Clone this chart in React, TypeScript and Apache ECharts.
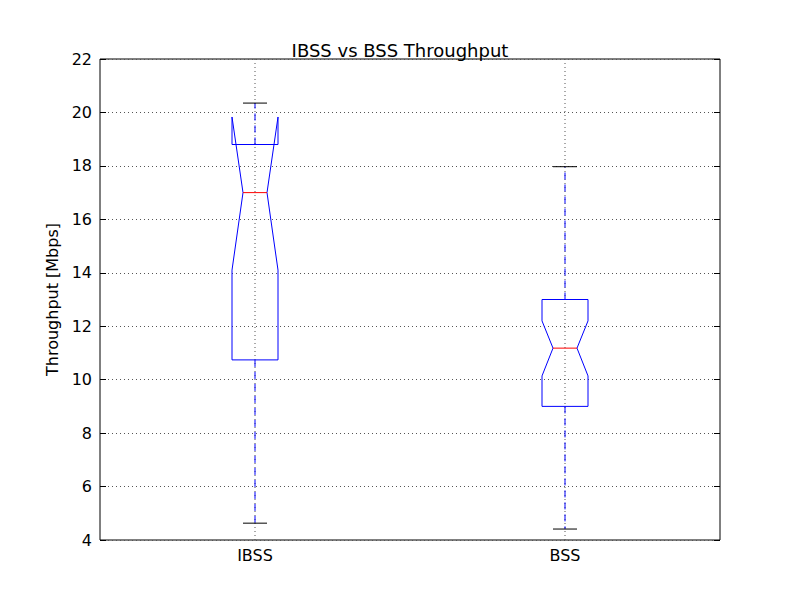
import { useEffect, useRef } from 'react';
import * as echarts from 'echarts';

const categories = ['IBSS', 'BSS'];
// [whiskerLow, q1, notchLow, median, notchHigh, q3, whiskerHigh]
const boxStats = [
  [4.63, 10.74, 14.1, 17.0, 19.83, 18.8, 20.35],
  [4.41, 9.0, 10.14, 11.18, 12.2, 13.0, 17.97],
];
const yTicks = { min: 4, max: 22, interval: 2 };

const App = () => {
  const chartRef = useRef<HTMLDivElement>(null);

  useEffect(() => {
    document.body.style.margin = '0';
    if (!chartRef.current) return;
    const chart = echarts.init(chartRef.current, undefined, { renderer: 'svg' });
    const font = 'DejaVu Sans';

    const renderItem = (params: any, api: any) => {
      const idx = api.value(0);
      const vals = [1, 2, 3, 4, 5, 6, 7].map((i) => api.value(i));
      const [wl, q1, nl, med, nh, q3, wh] = vals;
      const cx = api.coord([idx, med])[0];
      const y = (v: number) => api.coord([idx, v])[1];
      const cs = params.coordSys;
      const hw = 23;
      const nw = 12;
      const blue = '#0000ff';
      return {
        type: 'group',
        children: [
          {
            type: 'line',
            shape: { x1: cx, y1: cs.y, x2: cx, y2: cs.y + cs.height },
            style: { stroke: '#555', lineWidth: 1, lineDash: [1, 3] },
            z2: 0,
          },
          {
            type: 'line',
            shape: { x1: cx, y1: y(q1), x2: cx, y2: y(wl) },
            style: { stroke: blue, lineWidth: 1, lineDash: [7, 5] },
          },
          {
            type: 'line',
            shape: { x1: cx, y1: y(q3), x2: cx, y2: y(wh) },
            style: { stroke: blue, lineWidth: 1, lineDash: [7, 5] },
          },
          {
            type: 'line',
            shape: { x1: cx - nw, y1: y(wl), x2: cx + nw, y2: y(wl) },
            style: { stroke: '#000', lineWidth: 1 },
          },
          {
            type: 'line',
            shape: { x1: cx - nw, y1: y(wh), x2: cx + nw, y2: y(wh) },
            style: { stroke: '#000', lineWidth: 1 },
          },
          {
            type: 'polygon',
            shape: {
              points: [
                [cx - hw, y(q1)],
                [cx + hw, y(q1)],
                [cx + hw, y(nl)],
                [cx + nw, y(med)],
                [cx + hw, y(nh)],
                [cx + hw, y(q3)],
                [cx - hw, y(q3)],
                [cx - hw, y(nh)],
                [cx - nw, y(med)],
                [cx - hw, y(nl)],
              ],
            },
            style: { fill: 'none', stroke: blue, lineWidth: 1 },
          },
          {
            type: 'line',
            shape: { x1: cx - nw, y1: y(med), x2: cx + nw, y2: y(med) },
            style: { stroke: '#ff0000', lineWidth: 1 },
          },
        ],
      };
    };

    chart.setOption({
      animation: false,
      backgroundColor: '#fff',
      title: {
        text: 'IBSS vs BSS Throughput',
        left: 'center',
        top: 36,
        textStyle: { fontFamily: font, fontSize: 18, fontWeight: 'normal', color: '#000' },
      },
      grid: {
        left: 100, right: 80, top: 59, bottom: 60,
        show: true, borderColor: '#000', borderWidth: 1, backgroundColor: 'transparent',
      },
      xAxis: {
        type: 'category',
        data: categories,
        axisLine: { show: false },
        axisTick: { inside: true, alignWithLabel: true, length: 6, lineStyle: { color: '#000' } },
        axisLabel: { fontFamily: font, fontSize: 16, color: '#000', margin: 7 },
        splitLine: { show: false },
      },
      yAxis: [
        {
          type: 'value',
          ...yTicks,
          name: 'Throughput [Mbps]',
          nameLocation: 'middle',
          nameGap: 36,
          nameTextStyle: { fontFamily: font, fontSize: 16, color: '#000' },
          axisLine: { show: false },
          axisTick: { show: true, inside: true, length: 6, lineStyle: { color: '#000' } },
          axisLabel: { fontFamily: font, fontSize: 16, color: '#000', margin: 8 },
          splitLine: { show: true, lineStyle: { color: '#555', type: [1, 3] } },
        },
        {
          type: 'value',
          ...yTicks,
          position: 'right',
          axisLine: { show: false },
          axisTick: { show: true, inside: true, length: 6, lineStyle: { color: '#000' } },
          axisLabel: { show: false },
          splitLine: { show: false },
        },
      ],
      series: [
        {
          type: 'custom',
          renderItem,
          data: boxStats.map((s, i) => [i, ...s]),
          encode: { x: 0, y: [1, 7] },
        },
      ],
    });

    return () => chart.dispose();
  }, []);

  return <div ref={chartRef} style={{ width: 800, height: 600 }} />;
};

export default App;
